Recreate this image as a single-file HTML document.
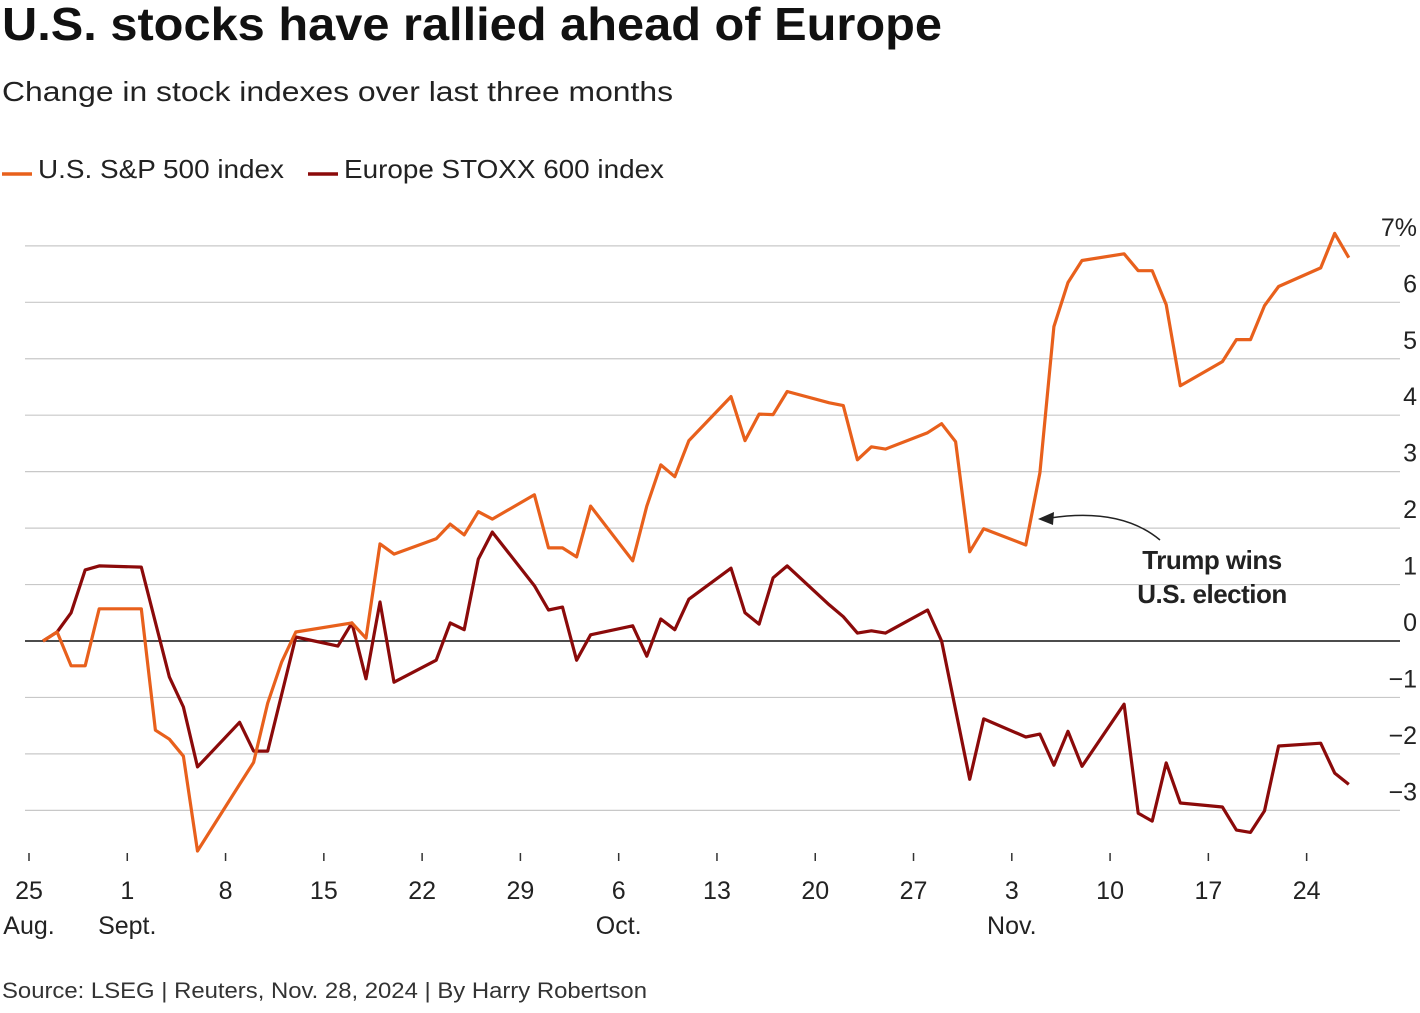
<!DOCTYPE html>
<html><head><meta charset="utf-8"><style>
body{margin:0;background:#fff;font-family:"Liberation Sans",Arial,sans-serif;}
svg text{font-family:"Liberation Sans",Arial,sans-serif;}
</style></head><body>
<svg width="1420" height="1008" viewBox="0 0 1420 1008">
<text x="2" y="40" font-size="46" font-weight="bold" fill="#111" textLength="940" lengthAdjust="spacingAndGlyphs">U.S. stocks have rallied ahead of Europe</text>
<text x="2" y="101" font-size="28" fill="#222" textLength="671" lengthAdjust="spacingAndGlyphs">Change in stock indexes over last three months</text>
<g>
<line x1="2" y1="174" x2="32" y2="174" stroke="#e8601c" stroke-width="3.5"/>
<text x="38" y="178" font-size="26" fill="#222" textLength="246" lengthAdjust="spacingAndGlyphs">U.S. S&amp;P 500 index</text>
<line x1="308" y1="174" x2="338" y2="174" stroke="#8b0a0a" stroke-width="3.5"/>
<text x="344" y="178" font-size="26" fill="#222" textLength="320" lengthAdjust="spacingAndGlyphs">Europe STOXX 600 index</text>
</g>
<g id="grid"></g>
<g id="xaxis"></g>
<g id="series"></g>
<g>
<path d="M1160 540 C1130 515 1090 512 1050 518" fill="none" stroke="#222" stroke-width="1.5"/>
<polygon points="1038,519 1054,512 1053,525" fill="#222"/>
<text x="1212" y="569" font-size="26" font-weight="bold" fill="#222" text-anchor="middle" letter-spacing="-0.5">Trump wins</text>
<text x="1212" y="603" font-size="26" font-weight="bold" fill="#222" text-anchor="middle" letter-spacing="-0.5">U.S. election</text>
</g>
<text x="2" y="998" font-size="22" fill="#333" textLength="645" lengthAdjust="spacingAndGlyphs">Source: LSEG | Reuters, Nov. 28, 2024 | By Harry Robertson</text>
</svg>
<script>
const yTicks=[-3,-2,-1,0,1,2,3,4,5,6,7];
const xTickDays=[0,7,14,21,28,35,42,49,56,63,70,77,84,91];
const xTickLabels=["25","1","8","15","22","29","6","13","20","27","3","10","17","24"];
const xMonthLabels=["Aug.","Sept.","","","","","Oct.","","","","Nov.","","",""];
const spDays=[1,2,3,4,5,8,9,10,11,12,15,16,17,18,19,23,24,25,26,29,30,31,32,33,36,37,38,39,40,43,44,45,46,47,50,51,52,53,54,57,58,59,60,61,64,65,66,67,68,71,72,73,74,75,78,79,80,81,82,85,86,87,88,89,92,93,94];
const spValues=[0,0.16,-0.44,-0.44,0.57,0.57,-1.58,-1.74,-2.04,-3.72,-2.54,-2.15,-1.1,-0.37,0.16,0.32,0.05,1.72,1.54,1.81,2.07,1.88,2.29,2.16,2.59,1.65,1.65,1.49,2.39,1.42,2.39,3.12,2.91,3.55,4.33,3.55,4.02,4.01,4.42,4.22,4.17,3.21,3.44,3.40,3.69,3.85,3.53,1.58,1.99,1.70,2.98,5.57,6.35,6.74,6.86,6.56,6.56,5.96,4.52,4.95,5.34,5.34,5.94,6.28,6.61,7.22,6.79];
const stoxxDays=[1,2,3,4,5,8,10,11,12,15,16,17,19,22,23,24,25,26,29,30,31,32,33,36,37,38,39,40,43,44,45,46,47,50,51,52,53,54,57,58,59,60,61,64,65,67,68,71,72,73,74,75,78,79,80,81,82,85,86,87,88,89,92,93,94];
const stoxxValues=[0,0.16,0.5,1.26,1.33,1.31,-0.64,-1.17,-2.23,-1.44,-1.95,-1.95,0.07,-0.09,0.32,-0.67,0.69,-0.73,-0.34,0.32,0.2,1.45,1.93,0.98,0.55,0.6,-0.34,0.11,0.27,-0.27,0.39,0.2,0.74,1.29,0.5,0.3,1.12,1.33,0.64,0.43,0.14,0.18,0.14,0.55,0,-2.45,-1.38,-1.7,-1.65,-2.2,-1.6,-2.22,-1.12,-3.05,-3.19,-2.16,-2.87,-2.94,-3.35,-3.39,-3.01,-1.86,-1.81,-2.34,-2.54];

const NS="http://www.w3.org/2000/svg";
function x(d){return 29+d*14.04;}
function y(v){return 641-v*56.45;}
const grid=document.getElementById('grid');
yTicks.forEach(t=>{
  const l=document.createElementNS(NS,'line');
  l.setAttribute('x1',25);l.setAttribute('x2',1400);
  l.setAttribute('y1',y(t));l.setAttribute('y2',y(t));
  l.setAttribute('stroke',t===0?'#111':'#c8c8c8');
  l.setAttribute('stroke-width',t===0?1.5:1.2);
  
  
  grid.appendChild(l);
  const tx=document.createElementNS(NS,'text');
  tx.setAttribute('x',1417);tx.setAttribute('y',y(t)-10);
  tx.setAttribute('text-anchor','end');tx.setAttribute('font-size','25');tx.setAttribute('fill','#222');
  tx.textContent=(t<0?'\u2212'+(-t):t)+(t===7?'%':'');
  
  
  grid.appendChild(tx);
});
const xa=document.getElementById('xaxis');
xTickDays.forEach((d,i)=>{
  const l=document.createElementNS(NS,'line');
  l.setAttribute('x1',x(d));l.setAttribute('x2',x(d));l.setAttribute('y1',853);l.setAttribute('y2',861);
  l.setAttribute('stroke','#333');l.setAttribute('stroke-width',1.5);
  
  
  xa.appendChild(l);
  const t=document.createElementNS(NS,'text');
  t.setAttribute('x',x(d));t.setAttribute('y',899);t.setAttribute('text-anchor','middle');
  t.setAttribute('font-size','25');t.setAttribute('fill','#222');t.textContent=xTickLabels[i];
  
  
  xa.appendChild(t);
  if(xMonthLabels[i]){
    const m=document.createElementNS(NS,'text');
    m.setAttribute('x',x(d));m.setAttribute('y',934);m.setAttribute('text-anchor','middle');
    m.setAttribute('font-size','25');m.setAttribute('fill','#222');m.textContent=xMonthLabels[i];
    
    
    xa.appendChild(m);
  }
});
const sg=document.getElementById('series');
function line(days,vals,color,name){
  const p=document.createElementNS(NS,'polyline');
  p.setAttribute('points',days.map((d,i)=>x(d).toFixed(1)+','+y(vals[i]).toFixed(1)).join(' '));
  p.setAttribute('fill','none');p.setAttribute('stroke',color);p.setAttribute('stroke-width',3.2);
  p.setAttribute('stroke-linejoin','round');
  
  
  sg.appendChild(p);
}
line(stoxxDays,stoxxValues,'#8b0a0a','stoxx600-line');
line(spDays,spValues,'#e8601c','sp500-line');
</script>
</body></html>
